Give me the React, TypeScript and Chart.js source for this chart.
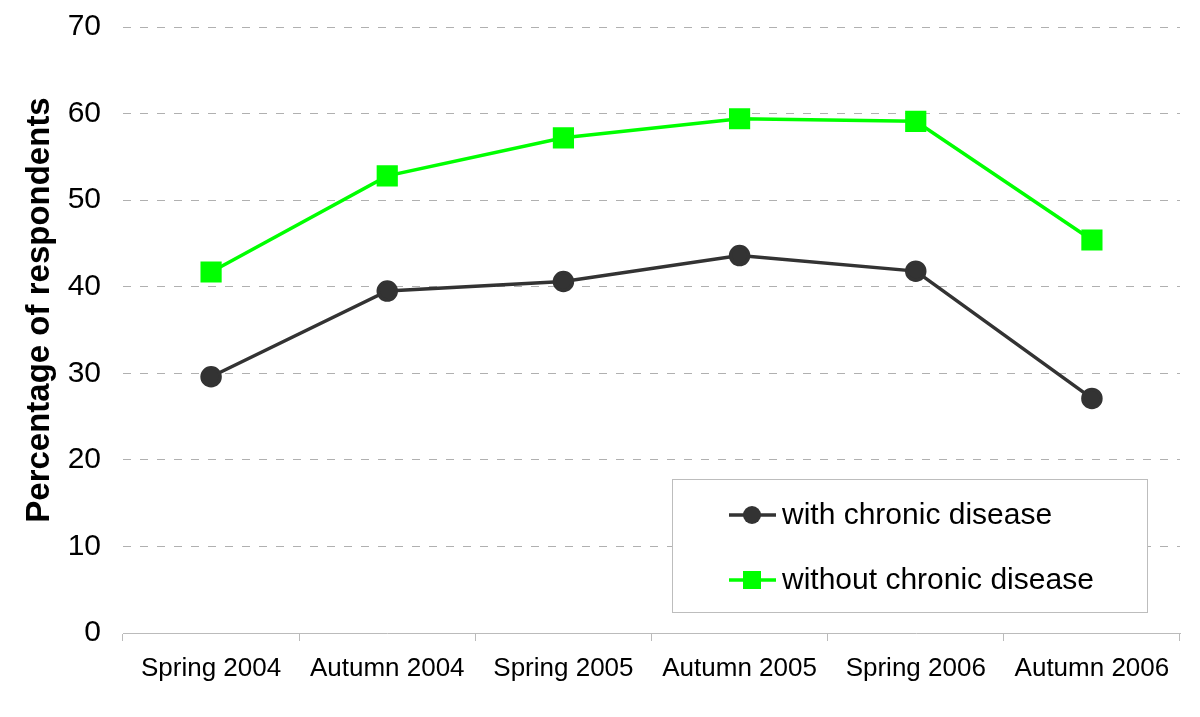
import React, { useEffect, useRef } from "react";
import { Chart, registerables } from "chart.js";

Chart.register(...registerables);

const categories = ["Spring 2004", "Autumn 2004", "Spring 2005", "Autumn 2005", "Spring 2006", "Autumn 2006"];
const withChronic = [29.6, 39.5, 40.6, 43.6, 41.8, 27.1];
const withoutChronic = [41.7, 52.8, 57.2, 59.4, 59.1, 45.4];
const seriesNames = ["with chronic disease", "without chronic disease"];
const yTitle = "Percentage of respondents";

const FONT = "'Liberation Sans', Arial, sans-serif";

const legendPlugin = {
  id: "insideLegend",
  afterDraw(chart: any) {
    const ctx = chart.ctx;
    ctx.save();
    ctx.fillStyle = "#ffffff";
    ctx.fillRect(672.5, 479.5, 475, 133);
    ctx.strokeStyle = "#bdbdbd";
    ctx.lineWidth = 1;
    ctx.strokeRect(672.5, 479.5, 475, 133);
    const rows = [515, 580];
    chart.data.datasets.forEach((ds: any, i: number) => {
      const y = rows[i];
      ctx.strokeStyle = ds.borderColor;
      ctx.lineWidth = 3.5;
      ctx.beginPath();
      ctx.moveTo(729, y);
      ctx.lineTo(776, y);
      ctx.stroke();
      ctx.fillStyle = ds.pointBackgroundColor;
      if (ds.pointStyle === "rect") {
        ctx.fillRect(752 - 9, y - 9, 18, 18);
      } else {
        ctx.beginPath();
        ctx.arc(752, y, 9, 0, Math.PI * 2);
        ctx.fill();
      }
      ctx.fillStyle = "#000000";
      ctx.font = `30px ${FONT}`;
      ctx.textBaseline = "middle";
      ctx.textAlign = "left";
      ctx.fillText(ds.label, 782, y + 1);
    });
    ctx.translate(40, 310);
    ctx.rotate(-Math.PI / 2);
    ctx.font = `bold 33px ${FONT}`;
    ctx.fillStyle = "#000000";
    ctx.textAlign = "center";
    ctx.textBaseline = "middle";
    ctx.fillText(yTitle, 0, 0);
    ctx.restore();
  },
};

export default function App() {
  const ref = useRef<HTMLCanvasElement | null>(null);
  useEffect(() => {
    document.body.style.margin = "0";
    const chart = new Chart(ref.current as HTMLCanvasElement, {
      type: "line",
      data: {
        labels: categories,
        datasets: [
          {
            label: seriesNames[0],
            data: withChronic,
            borderColor: "#333333",
            backgroundColor: "#333333",
            pointBackgroundColor: "#333333",
            pointBorderColor: "#333333",
            pointStyle: "circle",
            pointRadius: 9,
            borderWidth: 3.5,
            tension: 0,
          },
          {
            label: seriesNames[1],
            data: withoutChronic,
            borderColor: "#00ff00",
            backgroundColor: "#00ff00",
            pointBackgroundColor: "#00ff00",
            pointBorderColor: "#00ff00",
            pointStyle: "rect",
            pointRadius: 12.5,
            borderWidth: 3.5,
            tension: 0,
          },
        ] as any,
      },
      options: {
        responsive: false,
        animation: false,
        layout: { padding: { top: 27, right: 20, left: 0, bottom: 0 } },
        plugins: { legend: { display: false }, tooltip: { enabled: false }, title: { display: false } },
        scales: {
          x: {
            offset: true,
            grid: {
              offset: true,
              drawOnChartArea: false,
              drawTicks: true,
              tickLength: 8,
              color: "#bbbbbb",
            },
            border: { display: true, color: "#bbbbbb", width: 1 },
            ticks: { color: "#000000", font: { family: FONT, size: 26 }, padding: 12, maxRotation: 0, autoSkip: false },
            afterFit: (s: any) => {
              s.height = 84;
            },
          },
          y: {
            min: 0,
            max: 70,
            ticks: { stepSize: 10, color: "#000000", font: { family: FONT, size: 30 }, padding: 22 },
            grid: { color: "#b0b0b0", drawTicks: false, lineWidth: 1 },
            border: { display: false, dash: [8, 9] },
            afterFit: (s: any) => {
              s.width = 123;
              s.paddingTop = 18;
              s.paddingBottom = 18;
            },
          },
        },
      },
      plugins: [legendPlugin],
    });
    return () => chart.destroy();
  }, []);
  return (
    <div style={{ position: "absolute", left: 0, top: 0, width: 1200, height: 717, background: "#fff" }}>
      <canvas ref={ref} width={1200} height={717} />
    </div>
  );
}
